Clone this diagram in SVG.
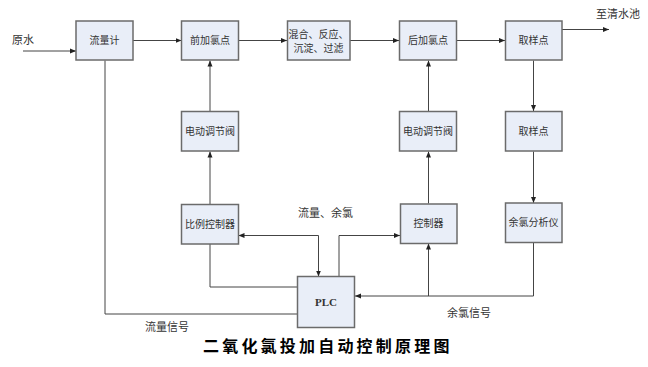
<svg xmlns="http://www.w3.org/2000/svg" width="648" height="367" viewBox="0 0 648 367">
<style>
.box{fill:#e9eef8;stroke:#6b6b6b;stroke-width:1.5}
.t{font-family:"Noto Sans CJK SC","Liberation Serif",sans-serif;font-size:10px;fill:#333;text-anchor:middle}
.lbl{font-family:"Noto Sans CJK SC",sans-serif;font-size:11px;fill:#333}
.plc{font-family:"Liberation Serif",serif;font-size:11px;fill:#333;text-anchor:middle;font-weight:bold}
.ln{fill:none;stroke:#444;stroke-width:1}
.title{font-family:"Noto Sans CJK SC",sans-serif;font-size:16px;font-weight:bold;fill:#000;letter-spacing:3.2px}
</style>
<defs>
<marker id="ar" viewBox="0 0 6 6" refX="6" refY="3" markerWidth="6" markerHeight="6" markerUnits="userSpaceOnUse" orient="auto-start-reverse">
<path d="M0,0.5 L6,3 L0,5.5 Z" fill="#222"/>
</marker>
</defs>
<rect width="648" height="367" fill="#fff"/>
<g id="connectors">
<path class="ln" d="M23,51 H76" marker-end="url(#ar)"/>
<path class="ln" d="M133,40.5 H181.5" marker-end="url(#ar)"/>
<path class="ln" d="M238.5,40.5 H287" marker-end="url(#ar)"/>
<path class="ln" d="M350,40.5 H399" marker-end="url(#ar)"/>
<path class="ln" d="M456,40.5 H505" marker-end="url(#ar)"/>
<path class="ln" d="M562,29.5 H609" marker-end="url(#ar)"/>
<path class="ln" d="M210,111 V60.5" marker-end="url(#ar)"/>
<path class="ln" d="M210,204.5 V151.5" marker-end="url(#ar)"/>
<path class="ln" d="M428.5,111 V60.5" marker-end="url(#ar)"/>
<path class="ln" d="M428.5,203.5 V151.5" marker-end="url(#ar)"/>
<path class="ln" d="M533.5,60.5 V111" marker-end="url(#ar)"/>
<path class="ln" d="M533.5,151.5 V203" marker-end="url(#ar)"/>
<path class="ln" d="M105,60.5 V314 H297.5"/>
<path class="ln" d="M210,244 V287 H297.5"/>
<path class="ln" d="M238.5,235.5 H318.5 V276.5" marker-start="url(#ar)" marker-end="url(#ar)"/>
<path class="ln" d="M339,276.5 V235.5 H400" marker-end="url(#ar)"/>
<path class="ln" d="M533.5,242.5 V296 H355" marker-end="url(#ar)"/>
<path class="ln" d="M428.5,296 V243.5" marker-end="url(#ar)"/>
</g>
<g id="n-liuliangji"><rect class="box" x="76" y="21" width="57" height="39"/><text class="t" x="104.5" y="44">流量计</text></g>
<g id="n-qianjialvdian"><rect class="box" x="181.5" y="21" width="57" height="39"/><text class="t" x="210" y="44">前加氯点</text></g>
<g id="n-hunhe"><rect class="box" x="287.5" y="21" width="62.5" height="39"/><text class="t" x="318.5" y="38">混合、反应、</text><text class="t" x="318.5" y="52">沉淀、过滤</text></g>
<g id="n-houjialvdian"><rect class="box" x="399.5" y="21" width="57" height="39"/><text class="t" x="428" y="44">后加氯点</text></g>
<g id="n-quyangdian1"><rect class="box" x="505.5" y="21" width="56.5" height="39"/><text class="t" x="533.5" y="44">取样点</text></g>
<g id="n-famen1"><rect class="box" x="181.5" y="111.5" width="57" height="39.5"/><text class="t" x="210" y="134.5">电动调节阀</text></g>
<g id="n-famen2"><rect class="box" x="399.5" y="111.5" width="57" height="39.5"/><text class="t" x="428" y="134.5">电动调节阀</text></g>
<g id="n-quyangdian2"><rect class="box" x="505.5" y="111.5" width="56.5" height="39.5"/><text class="t" x="533.5" y="134.5">取样点</text></g>
<g id="n-bili"><rect class="box" x="181.5" y="204.5" width="57" height="39.5"/><text class="t" x="210" y="227.5">比例控制器</text></g>
<g id="n-kongzhiqi"><rect class="box" x="400.5" y="204" width="56.5" height="39.5"/><text class="t" x="428.5" y="227">控制器</text></g>
<g id="n-fenxiyi"><rect class="box" x="505.5" y="203" width="56.5" height="39.5"/><text class="t" x="533.5" y="226">余氯分析仪</text></g>
<g id="n-plc"><rect class="box" x="297.5" y="276.5" width="57" height="51"/><text class="plc" x="326" y="305.5">PLC</text></g>
<g id="labels">
<text class="lbl" x="12" y="44">原水</text>
<text class="lbl" x="596" y="18">至清水池</text>
<text class="lbl" x="298" y="217">流量、余氯</text>
<text class="lbl" x="145" y="330.5">流量信号</text>
<text class="lbl" x="447" y="316.5">余氯信号</text>
<text class="title" x="203" y="352">二氧化氯投加自动控制原理图</text>
</g>
</svg>
